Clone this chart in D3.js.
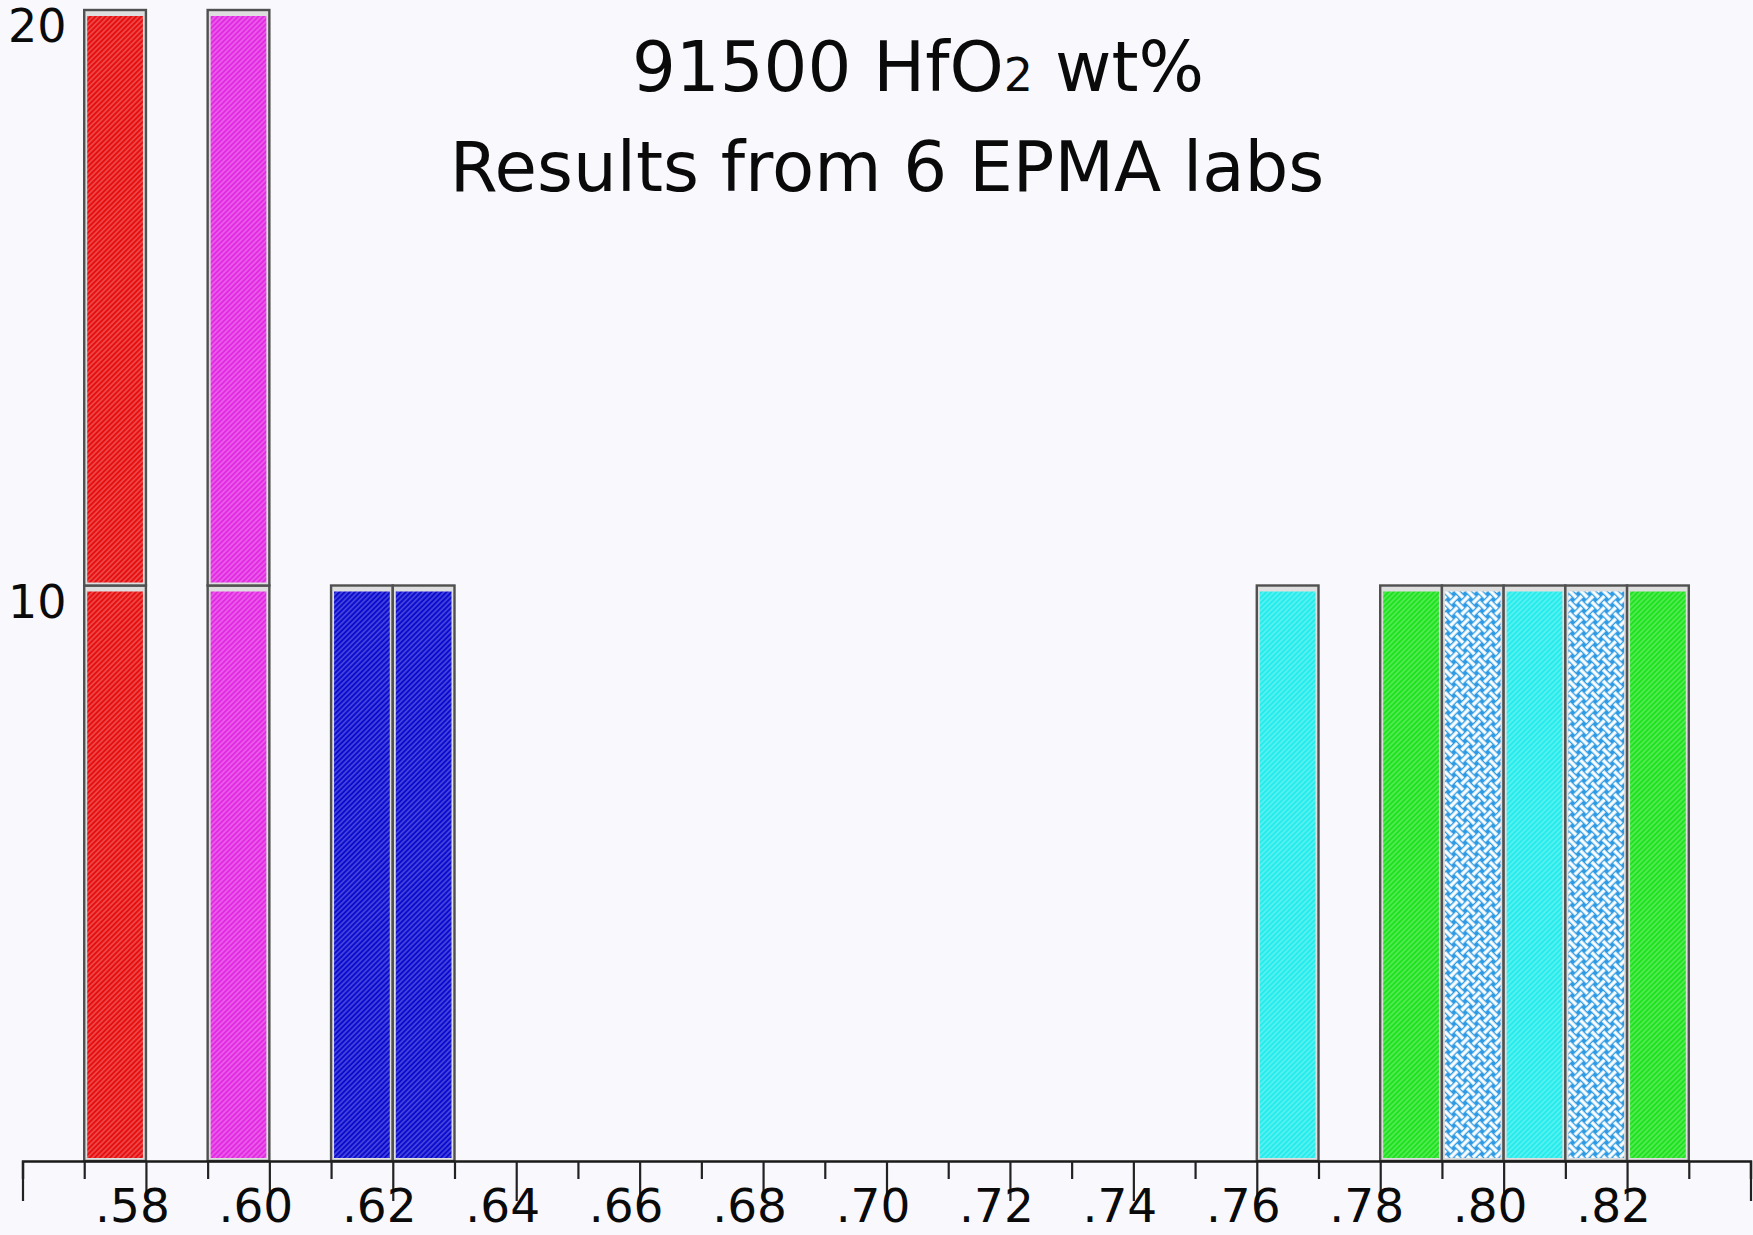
<!DOCTYPE html>
<html><head><meta charset="utf-8">
<script src="https://cdn.jsdelivr.net/npm/d3@7"></script>
<style>html,body{margin:0;padding:0;background:#f9f8fd;} svg{display:block}</style>
</head><body>
<svg id="chart" width="1753" height="1235"></svg>
<script>
// ---- data ----
const titleLine1 = ["91500 HfO", "2", " wt%"];
const titleLine2 = "Results from 6 EPMA labs";
const labNames = ["red", "magenta", "blue", "cyan", "green", "weave"];
const labColors = ["#e60e0e", "#e22ae2", "#0b0bcf", "#24ecec", "#1ee21e", "#2e9be4"];
const labPattern = ["hatch", "hatch", "hatch", "hatch", "hatch", "weave"];
const binStart = [0.57, 0.59, 0.61, 0.62, 0.76, 0.78, 0.79, 0.80, 0.81, 0.82];
const binLab = ["red", "magenta", "blue", "blue", "cyan", "green", "weave", "cyan", "weave", "green"];
const binCounts = [[10, 10], [10, 10], [10], [10], [10], [10], [10], [10], [10], [10]];
const binWidth = 0.01;
const xTickValues = [0.56,0.57,0.58,0.59,0.60,0.61,0.62,0.63,0.64,0.65,0.66,0.67,0.68,0.69,0.70,
                     0.71,0.72,0.73,0.74,0.75,0.76,0.77,0.78,0.79,0.80,0.81,0.82,0.83,0.84];
const xLabelValues = [0.58,0.60,0.62,0.64,0.66,0.68,0.70,0.72,0.74,0.76,0.78,0.80,0.82];
const xLabelTexts = [".58",".60",".62",".64",".66",".68",".70",".72",".74",".76",".78",".80",".82"];
const yTickValues = [10, 20];
const yTickTexts = ["10", "20"];

// ---- drawing ----
const svg = d3.select("#chart");
const W = 1753, H = 1235;
svg.append("rect").attr("width", W).attr("height", H).attr("fill", "#f9f8fd");

const x = d3.scaleLinear().domain([0.56, 0.84]).range([22.5, 1750.5]);
const y = d3.scaleLinear().domain([0, 20]).range([1161, 10]);
const color = d3.scaleOrdinal().domain(labNames).range(labColors);
const pat = d3.scaleOrdinal().domain(labNames).range(labPattern);

const defs = svg.append("defs");
labNames.forEach(name => {
  if (pat(name) === "hatch") {
    const sp = 3.6;
    const p = defs.append("pattern").attr("id", "p-" + name)
      .attr("patternUnits", "userSpaceOnUse").attr("width", sp).attr("height", sp)
      .attr("patternTransform", "rotate(45)");
    p.append("rect").attr("width", sp).attr("height", sp).attr("fill", color(name));
    p.append("line").attr("x1", sp / 2).attr("y1", -1).attr("x2", sp / 2).attr("y2", sp + 1)
      .attr("stroke", "#ffffff").attr("stroke-opacity", 0.45).attr("stroke-width", 0.9);
  } else {
    const s = 16, t = 3.4, a = s / 4, b = 3 * s / 4, g = t / 2 + 1.3;
    const p = defs.append("pattern").attr("id", "p-" + name)
      .attr("patternUnits", "userSpaceOnUse").attr("width", s).attr("height", s)
      .attr("patternTransform", "rotate(45)");
    p.append("rect").attr("width", s).attr("height", s).attr("fill", color(name));
    const segs = [
      [0, a, b - g, a], [b + g, a, s, a],
      [a + g, b, s, b], [0, b, a - g, b],
      [a, a + g, a, s], [a, 0, a, a - g],
      [b, 0, b, b - g], [b, b + g, b, s]
    ];
    segs.forEach(sg => p.append("line")
      .attr("x1", sg[0]).attr("y1", sg[1]).attr("x2", sg[2]).attr("y2", sg[3])
      .attr("stroke", "#ffffff").attr("stroke-width", t));
  }
});

// bars: one block per count segment, stacked
const blocks = [];
binStart.forEach((b, i) => {
  let base = 0;
  binCounts[i].forEach(c => {
    blocks.push({ start: b, lab: binLab[i], y0: base, y1: base + c });
    base += c;
  });
});

const barG = svg.append("g");
const inset = { l: 3, r: 3, t: 6, b: 3 };
blocks.forEach(d => {
  const x0 = x(d.start), x1 = x(d.start + binWidth);
  const yt = y(d.y1), yb = y(d.y0);
  barG.append("rect").attr("x", x0).attr("y", yt).attr("width", x1 - x0).attr("height", yb - yt)
    .attr("fill", "#dedede").attr("stroke", "#505050").attr("stroke-width", 2.4);
  barG.append("rect").attr("x", x0 + inset.l).attr("y", yt + inset.t)
    .attr("width", x1 - x0 - inset.l - inset.r).attr("height", yb - yt - inset.t - inset.b)
    .attr("fill", "url(#p-" + d.lab + ")");
});

// x axis
const major = v => Math.round(v * 100) % 2 === 0;
const labelOf = v => {
  const k = xLabelValues.findIndex(l => Math.abs(l - v) < 1e-9);
  return k >= 0 ? xLabelTexts[k] : "";
};
const axisG = svg.append("g").attr("transform", "translate(0,1161)")
  .call(d3.axisBottom(x).tickValues(xTickValues).tickSizeOuter(0).tickSize(18).tickFormat(labelOf));
axisG.select(".domain").attr("stroke", "#1a1a1a").attr("stroke-width", 2.4);
axisG.selectAll(".tick line").attr("stroke", "#222").attr("stroke-width", 2.2)
  .attr("y2", d => major(d) ? 40 : 18);
axisG.selectAll(".tick text")
  .attr("x", -14).attr("y", 61).attr("dy", 0)
  .attr("fill", "#0a0a0a").attr("font-family", "DejaVu Sans").attr("font-size", 47)
  .attr("text-anchor", "middle");

// y labels (no axis line)
svg.append("g").selectAll("text").data(yTickValues).join("text")
  .attr("x", 8).attr("y", d => y(d) + 32)
  .attr("font-family", "DejaVu Sans").attr("font-size", 46).attr("fill", "#0a0a0a")
  .text((d, i) => yTickTexts[i]);

// title
const t1 = svg.append("text").attr("x", 918).attr("y", 91).attr("text-anchor", "middle")
  .attr("font-family", "DejaVu Sans").attr("font-size", 69).attr("fill", "#0a0a0a");
t1.append("tspan").text(titleLine1[0]);
t1.append("tspan").attr("font-size", 46).text(titleLine1[1]);
t1.append("tspan").text(titleLine1[2]);
svg.append("text").attr("x", 887).attr("y", 191).attr("text-anchor", "middle")
  .attr("font-family", "DejaVu Sans").attr("font-size", 69).attr("fill", "#0a0a0a")
  .text(titleLine2);
</script>
</body></html>
